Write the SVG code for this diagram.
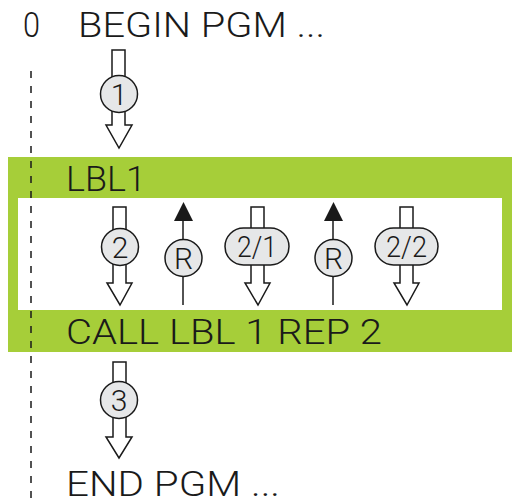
<svg xmlns="http://www.w3.org/2000/svg" width="514" height="504" viewBox="0 0 514 504">
<style>
.t{font-family:Roboto,"Liberation Sans",sans-serif;font-weight:300;font-size:35px;fill:#1a1a1a}
.c{font-family:Roboto,"Liberation Sans",sans-serif;font-weight:300;font-size:30px;fill:#1a1a1a;text-anchor:middle}
.b{fill:#e6e7e8;stroke:#1a1a1a;stroke-width:1.5}
.h{fill:#fff;stroke:#1a1a1a;stroke-width:1.5;stroke-linejoin:miter}
.l{stroke:#1a1a1a;stroke-width:1.5;fill:none}
.k{fill:#1a1a1a}
</style>
<rect x="0" y="0" width="514" height="504" fill="#fff"/>
<g id="loop">
<rect x="8" y="157" width="504" height="195" fill="#a6ce39"/>
<rect x="18" y="198" width="484" height="112" fill="#fff"/>
</g>
<line x1="31" y1="71" x2="31" y2="504" stroke="#1a1a1a" stroke-width="1.5" stroke-dasharray="7,8"/>
<g id="connectors">
<path class="h" d="M112 50 H125 V125 H132 L119 148 L106 125 H112 Z"/>
<path class="h" d="M113 207 H126 V283 H132 L120 305 L107 283 H113 Z"/>
<path class="l" d="M183 305 V218"/><path class="k" d="M174 221 L183.5 202 L193 221 Z"/>
<path class="h" d="M251 207 H264 V283 H270 L258 305 L245 283 H251 Z"/>
<path class="l" d="M333 305 V218"/><path class="k" d="M324 221 L333.5 202 L343 221 Z"/>
<path class="h" d="M400 207 H413 V283 H419 L407 305 L394 283 H400 Z"/>
<path class="h" d="M113 362 H126 V437 H132 L119 458 L106 437 H113 Z"/>
</g>
<g id="n0"><text class="t" x="23" y="37" textLength="17" lengthAdjust="spacingAndGlyphs">0</text><text class="t" x="78" y="37" textLength="247" lengthAdjust="spacingAndGlyphs">BEGIN PGM ...</text></g>
<g id="s1"><circle class="b" cx="119" cy="94" r="18.5"/><text class="c" x="119" y="104.5">1</text></g>
<g id="lbl1"><text class="t" x="66" y="191" textLength="80" lengthAdjust="spacingAndGlyphs">LBL1</text></g>
<g id="s2"><circle class="b" cx="120" cy="247" r="18.5"/><text class="c" x="120" y="257.5">2</text></g>
<g id="r1"><circle class="b" cx="183.5" cy="258" r="18.5"/><text class="c" x="183.5" y="268.5">R</text></g>
<g id="s21"><rect class="b" x="225" y="228" width="64" height="37" rx="18.5"/><text class="c" x="257" y="257" textLength="40" lengthAdjust="spacingAndGlyphs">2/1</text></g>
<g id="r2"><circle class="b" cx="333.5" cy="258" r="18.5"/><text class="c" x="333.5" y="268.5">R</text></g>
<g id="s22"><rect class="b" x="375" y="228" width="63" height="37" rx="18.5"/><text class="c" x="406.5" y="257" textLength="41" lengthAdjust="spacingAndGlyphs">2/2</text></g>
<g id="call"><text class="t" x="66" y="344" textLength="316" lengthAdjust="spacingAndGlyphs">CALL LBL 1 REP 2</text></g>
<g id="s3"><circle class="b" cx="119" cy="400" r="18.5"/><text class="c" x="119" y="410.5">3</text></g>
<g id="end"><text class="t" x="66" y="496" font-size="34" textLength="214" lengthAdjust="spacingAndGlyphs">END PGM ...</text></g>
</svg>
